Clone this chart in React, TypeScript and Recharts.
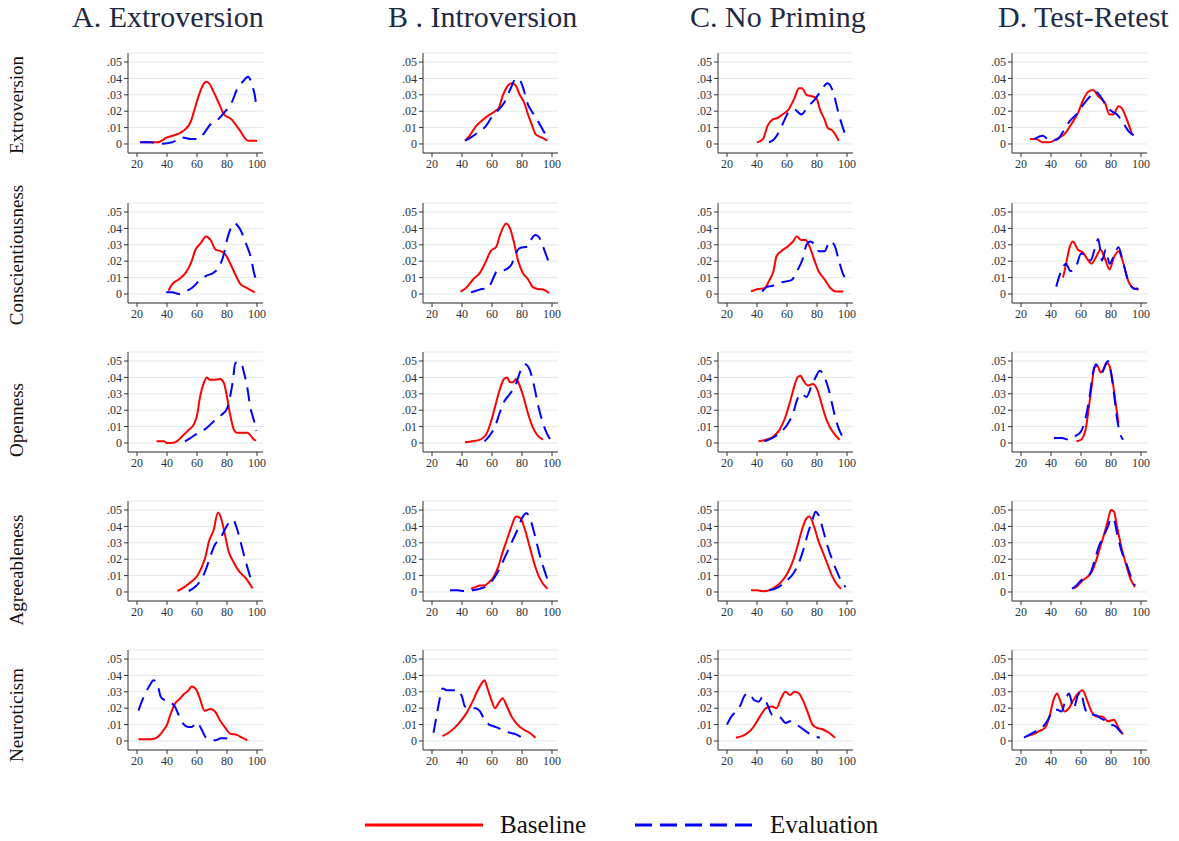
import React from "react";
import { LineChart, Line, XAxis, YAxis, CartesianGrid } from "recharts";

type Pt = [number, number];

const columnTitles = ["A. Extroversion", "B . Introversion", "C. No Priming", "D. Test-Retest"];
const traits = ["Extroversion", "Conscientiousness", "Openness", "Agreeableness", "Neuroticism"];
const xTicks = [20, 40, 60, 80, 100];
const yTicks = [0, 0.01, 0.02, 0.03, 0.04, 0.05];

// ---- Extroversion row ----
const extA_base: Pt[] = [[22,0.001],[28,0.001],[33.5,0.001],[40,0.004],[47,0.006],[51,0.008],[56,0.014],[58,0.02],[61,0.029],[64,0.036],[66,0.038],[68,0.037],[71.5,0.031],[75,0.024],[78,0.018],[83,0.015],[88,0.009],[94,0.002],[100,0.002]];
const extA_eval: Pt[] = [[22,0.001],[29,0.001],[36,0.0002],[43.5,0.001],[50,0.004],[56,0.003],[61,0.003],[65,0.007],[69,0.012],[74,0.015],[78,0.019],[83,0.025],[87,0.034],[90.5,0.038],[94,0.041],[97,0.035],[99,0.027],[99.5,0.022]];
const extB_base: Pt[] = [[42,0.002],[45,0.005],[49.5,0.011],[53,0.014],[57,0.017],[62,0.02],[64.5,0.022],[67,0.029],[71,0.036],[73,0.037],[75.5,0.036],[78.5,0.03],[82,0.024],[84,0.018],[86.5,0.012],[89,0.006],[93,0.004],[97,0.002]];
const extB_eval: Pt[] = [[42,0.002],[46,0.004],[50.5,0.007],[56,0.011],[59.5,0.016],[63.5,0.02],[68,0.025],[72.5,0.034],[76,0.04],[78.5,0.039],[81.5,0.032],[84,0.024],[86.5,0.02],[90,0.015],[93,0.01],[97.5,0.003]];
const extC_base: Pt[] = [[40,0.001],[44,0.003],[47,0.011],[50.5,0.015],[54,0.016],[57,0.018],[61,0.021],[65,0.028],[68,0.034],[70,0.034],[73,0.03],[77,0.029],[79.5,0.028],[82,0.021],[85,0.015],[87,0.01],[90.5,0.008],[94.5,0.002]];
const extC_eval: Pt[] = [[48,0.001],[51.5,0.003],[55,0.008],[58.5,0.015],[61.5,0.02],[65,0.021],[69.5,0.018],[74,0.023],[78.5,0.027],[83,0.033],[87,0.037],[91,0.031],[94,0.02],[96.5,0.012],[99.5,0.004]];
const extD_base: Pt[] = [[26,0.003],[30,0.003],[34.5,0.001],[39,0.001],[43.5,0.003],[49,0.006],[53.5,0.012],[58,0.019],[61.5,0.027],[65,0.032],[68,0.033],[71.5,0.029],[76,0.025],[79,0.018],[81.5,0.018],[85,0.023],[87,0.022],[90.5,0.015],[94,0.006]];
const extD_eval: Pt[] = [[29,0.003],[34.5,0.005],[39.5,0.002],[44.5,0.003],[49,0.009],[52.5,0.014],[57,0.018],[61.5,0.024],[66,0.029],[69.5,0.032],[73,0.029],[77,0.023],[80.5,0.02],[84,0.018],[88,0.013],[91.5,0.008],[95.5,0.005]];

// ---- Conscientiousness row ----
const conA_base: Pt[] = [[41,0.002],[43.5,0.006],[48,0.009],[52.5,0.013],[56,0.019],[59,0.027],[62.5,0.031],[66,0.035],[69,0.033],[72.5,0.027],[76,0.026],[79,0.024],[82.5,0.018],[86,0.011],[89,0.006],[92.5,0.004],[98.5,0.001]];
const conA_eval: Pt[] = [[39.5,0.001],[43.5,0.001],[48,0],[53.5,0.002],[57,0.004],[61.5,0.008],[66,0.011],[71,0.013],[75,0.017],[77.5,0.023],[80,0.033],[82,0.039],[85,0.043],[89,0.039],[92.5,0.031],[96,0.022],[98,0.013],[100,0.007]];
const conB_base: Pt[] = [[39,0.0015],[43,0.004],[47.5,0.009],[52,0.013],[56,0.02],[59,0.026],[63,0.029],[65,0.035],[69.5,0.043],[72,0.04],[74.5,0.032],[77.5,0.02],[80.5,0.013],[84,0.009],[87.5,0.004],[90.5,0.003],[94,0.0027],[98,0.0006]];
const conB_eval: Pt[] = [[46,0.001],[49.5,0.002],[53,0.003],[57.5,0.0035],[60.5,0.009],[63.5,0.014],[68,0.0145],[73,0.018],[75.5,0.024],[78.5,0.028],[84,0.029],[86,0.033],[89,0.036],[91,0.035],[94,0.029],[96,0.024],[98.5,0.018]];
const conC_base: Pt[] = [[36,0.0015],[40.5,0.003],[45,0.0035],[48,0.008],[51,0.014],[53,0.023],[56,0.026],[60.5,0.029],[64,0.032],[66.5,0.035],[69.5,0.033],[72.5,0.033],[75,0.029],[78.5,0.02],[81,0.014],[85,0.009],[89,0.0035],[93,0.0015],[97.5,0.0015]];
const conC_eval: Pt[] = [[43.5,0.0015],[47,0.0045],[50.5,0.005],[54,0.0065],[59.5,0.0077],[63,0.0085],[67,0.0145],[70.5,0.0215],[73,0.03],[75.5,0.032],[78.5,0.03],[81.5,0.026],[85,0.026],[88.5,0.032],[91.5,0.03],[94,0.0225],[97,0.013],[100,0.0077]];
const conD_base: Pt[] = [[48,0.01],[50,0.018],[52,0.027],[54.5,0.032],[58,0.027],[61.5,0.025],[64,0.0215],[67,0.0185],[70,0.0225],[73,0.027],[76,0.0215],[79,0.015],[82,0.0225],[85,0.026],[88,0.0195],[91.5,0.008],[95,0.0035],[98.5,0.0027]];
const conD_eval: Pt[] = [[43.5,0.0045],[47,0.0145],[50,0.0185],[53,0.014],[57,0.0175],[60,0.0245],[63.5,0.024],[66.5,0.0205],[69,0.027],[71.5,0.0335],[74,0.0205],[76.5,0.027],[79,0.0185],[82,0.0235],[85,0.0285],[88,0.0195],[91.5,0.008],[96,0.003],[98,0.0035]];

// ---- Openness row ----
const opeA_base: Pt[] = [[33,0.001],[38,0.001],[40,0],[44.5,0.0002],[46.5,0.001],[50,0.004],[54.5,0.008],[58,0.0115],[60,0.0167],[62,0.028],[64.5,0.0365],[66.5,0.04],[68.5,0.0385],[71,0.0385],[75.5,0.039],[78,0.0365],[80,0.028],[82,0.0177],[84.5,0.0083],[86.5,0.0063],[93.5,0.0063],[95.5,0.0048],[98,0.002],[99.5,0.0015]];
const opeA_eval: Pt[] = [[52,0.001],[55.5,0.003],[60,0.0056],[63,0.007],[68,0.0104],[72,0.014],[76.5,0.0173],[80,0.021],[82,0.028],[84,0.0385],[85.5,0.049],[87,0.049],[89.5,0.049],[91,0.044],[93.5,0.034],[95.5,0.022],[98,0.0135],[99.5,0.0073]];
const opeB_base: Pt[] = [[42,0.0005],[47,0.001],[52,0.002],[56,0.005],[59,0.012],[62,0.022],[65,0.032],[68,0.039],[70,0.04],[72,0.037],[74,0.037],[76,0.039],[78,0.036],[81,0.028],[84,0.018],[87,0.01],[90,0.005],[94,0.002]];
const opeB_eval: Pt[] = [[55,0.001],[58,0.004],[62,0.01],[65,0.018],[68,0.025],[72,0.03],[76,0.036],[79,0.044],[82,0.048],[85,0.045],[88,0.035],[91,0.022],[94,0.012],[97,0.005],[99,0.002]];
const opeC_base: Pt[] = [[41,0.001],[46,0.002],[51,0.004],[55,0.008],[59,0.016],[62,0.025],[65,0.035],[67,0.04],[69,0.041],[71,0.038],[74,0.035],[77,0.036],[80,0.033],[83,0.024],[86,0.015],[89,0.009],[92,0.005],[95,0.002]];
const opeC_eval: Pt[] = [[45,0.001],[50,0.003],[55,0.006],[60,0.011],[64,0.018],[67,0.027],[70,0.03],[73,0.028],[76,0.034],[79,0.04],[82,0.044],[85,0.04],[88,0.032],[91,0.02],[94,0.01],[97,0.004],[99,0.002]];
const opeD_base: Pt[] = [[57,0.001],[60,0.002],[63,0.008],[65,0.02],[67,0.034],[69,0.046],[71,0.047],[73,0.043],[75,0.045],[77,0.049],[79,0.047],[81,0.038],[83,0.025],[85,0.012]];
const opeD_eval: Pt[] = [[42,0.003],[47,0.003],[52,0.002],[56,0.004],[60,0.007],[63,0.015],[66,0.03],[68,0.043],[70,0.048],[72,0.045],[74,0.043],[76,0.047],[78,0.05],[80,0.043],[82,0.03],[84,0.015],[86,0.006],[88,0.002]];

// ---- Agreeableness row ----
const agrA_base: Pt[] = [[47,0.0006],[52,0.0033],[56.5,0.0065],[60,0.0096],[63.5,0.016],[65.5,0.021],[68,0.031],[71,0.0375],[74,0.0485],[76,0.045],[78.5,0.0356],[81,0.025],[84.5,0.018],[88,0.0127],[92.5,0.0085],[97,0.0023]];
const agrA_eval: Pt[] = [[54.5,0.0006],[59,0.0033],[62,0.0065],[65.5,0.0127],[69,0.022],[72,0.029],[75,0.032],[78,0.037],[81,0.042],[84,0.044],[87,0.0375],[89.5,0.029],[91.5,0.022],[94,0.0137],[97,0.0048]];
const agrB_base: Pt[] = [[46,0.002],[49,0.003],[52,0.004],[55,0.004],[58,0.006],[61,0.009],[64,0.015],[67,0.024],[70,0.032],[73,0.04],[76,0.046],[79,0.045],[82,0.038],[85,0.028],[88,0.018],[91,0.01],[94,0.005],[97,0.002]];
const agrB_eval: Pt[] = [[32,0.001],[37,0.001],[42,0.0005],[47,0.001],[52,0.002],[57,0.004],[61,0.008],[65,0.014],[69,0.022],[73,0.03],[77,0.038],[80,0.045],[83,0.048],[86,0.043],[89,0.033],[92,0.022],[95,0.013],[98,0.005]];
const agrC_base: Pt[] = [[36,0.001],[40,0.001],[44,0.0005],[48,0.001],[52,0.003],[56,0.006],[60,0.011],[64,0.019],[67,0.028],[70,0.038],[73,0.045],[75,0.046],[78,0.04],[81,0.031],[84,0.024],[87,0.017],[90,0.01],[93,0.005],[96,0.002]];
const agrC_eval: Pt[] = [[48,0.001],[52,0.002],[56,0.004],[60,0.007],[64,0.011],[68,0.018],[71,0.026],[74,0.036],[77,0.044],[79,0.049],[81,0.047],[84,0.038],[87,0.028],[90,0.02],[93,0.013],[96,0.007],[99,0.003]];
const agrD_base: Pt[] = [[55,0.002],[58,0.004],[61,0.007],[64,0.009],[67,0.012],[70,0.019],[73,0.028],[76,0.037],[78,0.044],[80,0.05],[82,0.049],[84,0.04],[87,0.027],[90,0.017],[93,0.008],[96,0.003]];
const agrD_eval: Pt[] = [[54,0.002],[57,0.004],[60,0.007],[63,0.009],[66,0.011],[69,0.019],[72,0.028],[75,0.034],[78,0.04],[80,0.045],[82,0.044],[84,0.036],[87,0.025],[90,0.018],[93,0.01],[96,0.004]];

// ---- Neuroticism row ----
const neuA_base: Pt[] = [[21,0.001],[26.5,0.001],[31.5,0.0014],[34.5,0.003],[38,0.007],[40,0.0099],[42,0.0154],[45.5,0.023],[48.5,0.0257],[51,0.0284],[54,0.0305],[56.5,0.0333],[59.5,0.0313],[62,0.0257],[65,0.0185],[69,0.0195],[72,0.018],[75.5,0.0123],[79,0.0078],[82,0.0045],[86.5,0.0037],[90,0.002],[93.5,0.0004]];
const neuA_eval: Pt[] = [[21,0.0185],[23,0.0237],[25.5,0.0288],[28.5,0.034],[31,0.037],[33.5,0.0346],[36,0.0267],[39,0.0247],[42,0.0237],[45.5,0.0206],[48,0.0154],[51,0.0103],[54,0.0086],[56.5,0.0086],[60,0.0113],[63.5,0.0062],[66,0.002],[72,0.0004],[76,0.0016],[79,0.0016],[82,0.001]];
const neuB_base: Pt[] = [[27,0.003],[31,0.005],[35,0.008],[39,0.012],[43,0.017],[47,0.024],[50,0.03],[53,0.035],[55,0.037],[57,0.032],[60,0.024],[62,0.02],[65,0.024],[67,0.026],[70,0.021],[73,0.015],[77,0.01],[81,0.007],[85,0.005],[89,0.002]];
const neuB_eval: Pt[] = [[21,0.005],[23,0.015],[25,0.025],[27,0.032],[30,0.031],[34,0.031],[37,0.031],[40,0.027],[42,0.021],[45,0.02],[49,0.02],[52,0.018],[55,0.013],[58,0.01],[61,0.009],[64,0.008],[68,0.006],[72,0.005],[76,0.004],[80,0.002]];
const neuC_base: Pt[] = [[26,0.002],[30,0.003],[34,0.005],[38,0.009],[42,0.015],[46,0.02],[50,0.021],[53,0.02],[56,0.026],[59,0.03],[62,0.028],[65,0.03],[68,0.029],[71,0.024],[74,0.017],[77,0.01],[80,0.008],[84,0.007],[88,0.005],[92,0.002]];
const neuC_eval: Pt[] = [[20,0.01],[23,0.015],[26,0.018],[29,0.022],[32,0.028],[35,0.029],[38,0.025],[41,0.024],[44,0.027],[47,0.022],[50,0.016],[53,0.015],[56,0.014],[59,0.011],[62,0.012],[65,0.011],[68,0.009],[71,0.007],[74,0.005],[78,0.003],[82,0.002]];
const neuD_base: Pt[] = [[24,0.003],[28,0.004],[32,0.006],[36,0.008],[39,0.015],[42,0.026],[44,0.029],[46,0.025],[49,0.018],[52,0.02],[55,0.025],[58,0.029],[61,0.031],[64,0.025],[67,0.018],[70,0.015],[74,0.015],[78,0.012],[82,0.013],[85,0.008],[88,0.004]];
const neuD_eval: Pt[] = [[22,0.002],[26,0.004],[30,0.006],[34,0.008],[38,0.013],[41,0.018],[44,0.019],[47,0.018],[50,0.026],[52,0.029],[55,0.02],[58,0.028],[60,0.03],[62,0.022],[65,0.016],[69,0.016],[73,0.014],[77,0.012],[80,0.01],[83,0.009],[86,0.006],[89,0.004]];

const baseline: Pt[][][] = [
  [extA_base, extB_base, extC_base, extD_base],
  [conA_base, conB_base, conC_base, conD_base],
  [opeA_base, opeB_base, opeC_base, opeD_base],
  [agrA_base, agrB_base, agrC_base, agrD_base],
  [neuA_base, neuB_base, neuC_base, neuD_base],
];
const evaluation: Pt[][][] = [
  [extA_eval, extB_eval, extC_eval, extD_eval],
  [conA_eval, conB_eval, conC_eval, conD_eval],
  [opeA_eval, opeB_eval, opeC_eval, opeD_eval],
  [agrA_eval, agrB_eval, agrC_eval, agrD_eval],
  [neuA_eval, neuB_eval, neuC_eval, neuD_eval],
];

// layout
const colAxisX = [128, 423, 718, 1012];
const rowTop = [53, 203, 352, 501, 650];
const titleX = [72, 388, 690, 998];
const labelCY = [105, 255, 420, 570, 715];
const Y_AXIS_W = 30;
const FONT = "'Liberation Serif', 'Times New Roman', serif";
const TICK_COLOR = "#2b3140";

function merge(base: Pt[], ev: Pt[]) {
  const rows: { x: number; base?: number; eval?: number }[] = [];
  base.forEach(([x, y]) => rows.push({ x, base: y }));
  ev.forEach(([x, y]) => rows.push({ x, eval: y }));
  return rows.sort((a, b) => a.x - b.x);
}

const fmtY = (v: number) => (v === 0 ? "0" : "." + Math.round(v * 100).toString().padStart(2, "0"));

// custom ticks so the serif font actually sticks
const XTick = (p: any) => (
  <text x={p.x} y={p.y} dy="0.75em" textAnchor="middle" fontFamily={FONT} fontSize={12} fill={TICK_COLOR}>
    {p.payload.value}
  </text>
);
const YTick = (p: any) => (
  <text x={p.x} y={p.y} dy="0.35em" textAnchor="end" fontFamily={FONT} fontSize={12} fill={TICK_COLOR}>
    {fmtY(p.payload.value)}
  </text>
);

function Panel({ r, c }: { r: number; c: number }) {
  const data = merge(baseline[r][c], evaluation[r][c]);
  return (
    <div style={{ position: "absolute", left: colAxisX[c] - Y_AXIS_W, top: rowTop[r] - 5 }}>
      <LineChart width={170} height={127} data={data} margin={{ top: 5, right: 5, left: 0, bottom: 0 }}>
        <CartesianGrid vertical={false} stroke="#e2e9ec" />
        <XAxis
          type="number"
          dataKey="x"
          domain={[14, 104]}
          ticks={xTicks}
          interval={0}
          allowDataOverflow
          height={22}
          tickSize={4}
          tick={XTick}
          stroke="#333"
        />
        <YAxis
          type="number"
          domain={[-0.0055, 0.0555]}
          ticks={yTicks}
          interval={0}
          allowDataOverflow
          width={Y_AXIS_W}
          tickSize={4}
          tick={YTick}
          stroke="#333"
        />
        <Line type="monotone" dataKey="base" stroke="#ff0000" strokeWidth={2} dot={false} connectNulls isAnimationActive={false} />
        <Line type="monotone" dataKey="eval" stroke="#0000ff" strokeWidth={2} strokeDasharray="14 8" dot={false} connectNulls isAnimationActive={false} />
      </LineChart>
    </div>
  );
}

export default function App() {
  return (
    <div style={{ position: "absolute", left: 0, top: 0, width: 1179, height: 841, background: "#fff", overflow: "hidden" }}>
      <svg width={1179} height={841} style={{ position: "absolute", left: 0, top: 0 }}>
        {columnTitles.map((t, i) => (
          <text key={t} x={titleX[i]} y={27} fontFamily={FONT} fontSize={30} fill="#1f2a44">
            {t}
          </text>
        ))}
        {traits.map((t, i) => (
          <text key={t} transform={`translate(23, ${labelCY[i]}) rotate(-90)`} textAnchor="middle" fontFamily={FONT} fontSize={19} fill="#111">
            {t}
          </text>
        ))}
        <line x1={365} x2={483} y1={825} y2={825} stroke="#ff0000" strokeWidth={3} />
        <text x={500} y={833} fontFamily={FONT} fontSize={25} fill="#111">Baseline</text>
        <line x1={635} x2={752} y1={825} y2={825} stroke="#0000ff" strokeWidth={3} strokeDasharray="17 8" />
        <text x={770} y={833} fontFamily={FONT} fontSize={25} fill="#111">Evaluation</text>
      </svg>
      {traits.map((_, r) => columnTitles.map((__, c) => <Panel key={`${r}-${c}`} r={r} c={c} />))}
    </div>
  );
}
